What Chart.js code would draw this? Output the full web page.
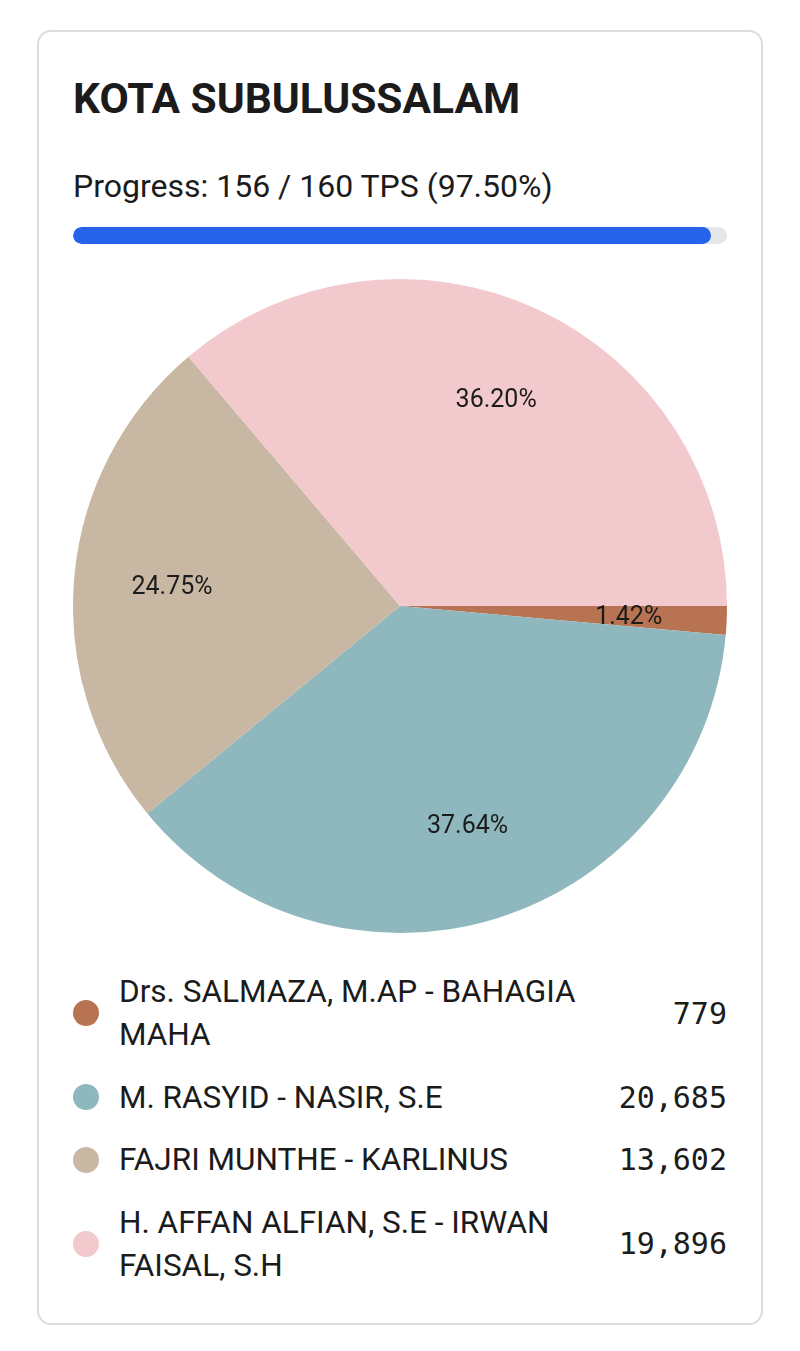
<!DOCTYPE html>
<html>
<head>
<meta charset="utf-8">
<script src="https://cdn.jsdelivr.net/npm/chart.js@4.4.1/dist/chart.umd.min.js"></script>
<style>
  html, body { margin: 0; padding: 0; background: #ffffff; }
  body { width: 800px; height: 1351px; position: relative; font-family: Roboto, "Liberation Sans", sans-serif; color: #1b1b1b; }
  .card { position: absolute; left: 37px; top: 30px; width: 722px; height: 1291px; border: 2px solid #dedede; border-radius: 14px; background: #fff; }
  .title { position: absolute; left: 73px; top: 74px; font-size: 42.5px; font-weight: 700; line-height: 50px; margin: 0; white-space: nowrap; }
  .progress-text { position: absolute; left: 73px; top: 167px; font-size: 32px; line-height: 38px; white-space: nowrap; }
  .track { position: absolute; left: 73px; top: 227px; width: 654px; height: 17px; border-radius: 9px; background: #e5e7eb; overflow: hidden; }
  .fill { height: 100%; background: #2563eb; border-radius: 9px; }
  .chartbox { position: absolute; left: 73px; top: 279px; width: 654px; height: 654px; }
  .legend { position: absolute; left: 73px; top: 970px; width: 654px; }
  .row { display: flex; align-items: center; margin-bottom: 19.5px; }
  .dot { width: 26px; height: 26px; border-radius: 50%; flex: 0 0 26px; margin-right: 20px; }
  .name { flex: 1 1 auto; font-size: 31.5px; line-height: 43px; padding-right: 30px; }
  .val { flex: 0 0 auto; font-family: "DejaVu Sans Mono", monospace; font-size: 30px; line-height: 43px; text-align: right; }
</style>
</head>
<body>
<div class="card"></div>
<div class="title" id="title"></div>
<div class="progress-text" id="ptext"></div>
<div class="track"><div class="fill" id="pfill"></div></div>
<div class="chartbox"><canvas id="pie"></canvas></div>
<div class="legend" id="legend"></div>
<script>
const regionTitle = "KOTA SUBULUSSALAM";
const tpsDone = 156;
const tpsTotal = 160;
const candidates = [
  "Drs. SALMAZA, M.AP - BAHAGIA MAHA",
  "M. RASYID - NASIR, S.E",
  "FAJRI MUNTHE - KARLINUS",
  "H. AFFAN ALFIAN, S.E - IRWAN FAISAL, S.H"
];
const votes = [779, 20685, 13602, 19896];
const sliceColors = ["#b87352", "#8eb8bd", "#c8b7a2", "#f2cacd"];

document.getElementById('title').textContent = regionTitle;
const pct = (tpsDone / tpsTotal * 100);
document.getElementById('ptext').textContent = `Progress: ${tpsDone} / ${tpsTotal} TPS (${pct.toFixed(2)}%)`;
document.getElementById('pfill').style.width = pct + '%';

const legend = document.getElementById('legend');
candidates.forEach((c, i) => {
  const row = document.createElement('div'); row.className = 'row';
  const dot = document.createElement('div'); dot.className = 'dot'; dot.style.background = sliceColors[i];
  const nm = document.createElement('div'); nm.className = 'name'; nm.textContent = c;
  const v = document.createElement('div'); v.className = 'val'; v.textContent = votes[i].toLocaleString('en-US');
  row.appendChild(dot); row.appendChild(nm); row.appendChild(v);
  legend.appendChild(row);
});

const total = votes.reduce((a, b) => a + b, 0);
const pctLabels = {
  id: 'pctLabels',
  afterDatasetsDraw(chart) {
    const ctx = chart.ctx;
    const meta = chart.getDatasetMeta(0);
    ctx.save();
    ctx.font = '25px Roboto, "Liberation Sans", sans-serif';
    ctx.fillStyle = '#1b1b1b';
    ctx.textAlign = 'center';
    ctx.textBaseline = 'middle';
    meta.data.forEach((arc, i) => {
      const p = arc.getProps(['x', 'y', 'startAngle', 'endAngle', 'outerRadius'], true);
      const mid = (p.startAngle + p.endAngle) / 2;
      const r = p.outerRadius * 0.7;
      const txt = (votes[i] / total * 100).toFixed(2) + '%';
      ctx.fillText(txt, p.x + Math.cos(mid) * r, p.y + Math.sin(mid) * r + 2);
    });
    ctx.restore();
  }
};

new Chart(document.getElementById('pie'), {
  type: 'pie',
  data: {
    labels: candidates,
    datasets: [{
      data: votes,
      backgroundColor: sliceColors,
      borderWidth: 0,
      hoverOffset: 0,
      offset: 0
    }]
  },
  options: {
    responsive: true,
    maintainAspectRatio: false,
    animation: false,
    rotation: 90,
    events: [],
    layout: { padding: 0 },
    plugins: { legend: { display: false }, tooltip: { enabled: false } }
  },
  plugins: [pctLabels]
});
</script>
</body>
</html>
